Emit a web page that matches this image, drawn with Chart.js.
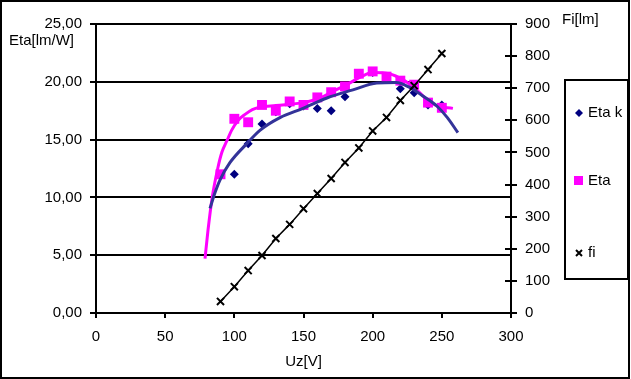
<!DOCTYPE html>
<html>
<head>
<meta charset="utf-8">
<script src="https://cdn.jsdelivr.net/npm/chart.js@4/dist/chart.umd.min.js"></script>
<style>
  html, body { margin: 0; padding: 0; background: #fff; }
  #wrap { width: 631px; height: 379px; }
</style>
</head>
<body>
<div id="wrap"><canvas id="grafico" width="631" height="379"></canvas></div>
<script>
const uz = [90, 100, 110, 120, 130, 140, 150, 160, 170, 180, 190, 200, 210, 220, 230, 240, 250];
const etaK = [11.9, 12.0, 14.65, 16.35, 17.4, 18.1, 17.9, 17.7, 17.5, 18.7, 20.6, 20.8, 20.4, 19.4, 19.05, 18.0, 18.0];
const eta = [12.0, 16.8, 16.5, 18.0, 17.5, 18.3, 18.0, 18.65, 19.1, 19.6, 20.7, 20.9, 20.45, 20.1, 19.75, 18.2, 17.75];
const fi = [36, 82, 132, 179, 232, 276, 325, 372, 419, 469, 514, 567, 609, 662, 708, 758, 808];

// Linhas de tendência
const tendEtaKX = [82.4, 86, 89.6, 96.8, 109, 118.5, 133, 149.6, 166.9, 185.7, 203, 217, 227, 236, 246, 254, 261.6];
const tendEtaKY = [9.05, 10.4, 11.5, 13.0, 14.65, 15.8, 16.9, 17.7, 18.6, 19.3, 19.9, 19.95, 19.5, 18.8, 17.95, 16.9, 15.6];
const tendEtaX = [78.8, 81, 84, 88, 91, 95, 98, 103, 108, 113, 118.5, 130, 150, 162, 170, 182, 191, 200, 212, 223, 230, 238, 246, 258];
const tendEtaY = [4.7, 7.2, 10.0, 12.5, 13.9, 15.0, 15.8, 16.7, 17.2, 17.6, 17.8, 17.95, 18.2, 18.6, 19.1, 19.8, 20.4, 20.8, 20.7, 20.1, 19.5, 18.6, 17.95, 17.7];

const ticksX = [0, 50, 100, 150, 200, 250, 300];

const pares = (xs, ys) => xs.map((x, i) => ({ x: x, y: ys[i] }));
const virgula = v => v.toFixed(2).replace('.', ',');

Chart.defaults.font.family = "'Liberation Sans', Arial, sans-serif";
Chart.defaults.font.size = 15;
Chart.defaults.color = '#000';

// Fundo, moldura, títulos dos eixos e legenda
const extras = {
  id: 'extras',
  beforeDraw(chart) {
    const ctx = chart.ctx;
    ctx.save();
    ctx.fillStyle = '#fff';
    ctx.fillRect(0, 0, chart.width, chart.height);
    ctx.restore();
  },
  afterDraw(chart) {
    const ctx = chart.ctx;
    const y2 = chart.scales.y2;
    ctx.save();
    // marcas internas do eixo direito
    ctx.strokeStyle = '#000';
    ctx.lineWidth = 2;
    y2.ticks.forEach(t => {
      const py = Math.round(y2.getPixelForValue(t.value));
      ctx.beginPath();
      ctx.moveTo(y2.left - 6, py);
      ctx.lineTo(y2.left, py);
      ctx.stroke();
    });

    ctx.fillStyle = '#000';
    ctx.font = "15px 'Liberation Sans', Arial, sans-serif";
    ctx.textBaseline = 'middle';
    ctx.textAlign = 'left';
    ctx.fillText('Eta[lm/W]', 9, 41);
    ctx.fillText('Fi[lm]', 562, 20);

    // legenda
    ctx.strokeRect(565, 80, 63, 199);
    ctx.fillText('Eta k', 588, 113);
    ctx.fillText('Eta', 588, 181);
    ctx.fillText('fi', 588, 253);
    ctx.fillStyle = '#000080';
    ctx.beginPath();
    ctx.moveTo(579, 109); ctx.lineTo(583, 113); ctx.lineTo(579, 117); ctx.lineTo(575, 113);
    ctx.closePath();
    ctx.fill();
    ctx.fillStyle = '#ff00ff';
    ctx.fillRect(574, 176, 9, 9);
    ctx.beginPath();
    ctx.moveTo(576, 250); ctx.lineTo(582, 256);
    ctx.moveTo(582, 250); ctx.lineTo(576, 256);
    ctx.stroke();

    // moldura externa
    ctx.strokeRect(1, 1, 628, 377);
    ctx.restore();
  }
};

new Chart(document.getElementById('grafico'), {
  type: 'scatter',
  data: {
    datasets: [
      {
        label: 'fi',
        data: pares(uz, fi),
        yAxisID: 'y2',
        showLine: true,
        borderColor: '#000',
        borderWidth: 1.5,
        pointStyle: 'crossRot',
        pointRadius: 5,
        pointBorderColor: '#000',
        pointBorderWidth: 2
      },
      {
        label: 'tend Eta k',
        data: pares(tendEtaKX, tendEtaKY),
        yAxisID: 'y',
        showLine: true,
        borderColor: '#333399',
        borderWidth: 3,
        pointRadius: 0,
        tension: 0.4,
        cubicInterpolationMode: 'monotone'
      },
      {
        label: 'tend Eta',
        data: pares(tendEtaX, tendEtaY),
        yAxisID: 'y',
        showLine: true,
        borderColor: '#ff00ff',
        borderWidth: 3,
        pointRadius: 0,
        cubicInterpolationMode: 'monotone'
      },
      {
        label: 'Eta',
        data: pares(uz, eta),
        yAxisID: 'y',
        pointStyle: 'rect',
        pointRadius: 7,
        pointBackgroundColor: '#ff00ff',
        pointBorderColor: '#ff00ff',
        pointBorderWidth: 0
      },
      {
        label: 'Eta k',
        data: pares(uz, etaK),
        yAxisID: 'y',
        pointStyle: 'rectRot',
        pointRadius: 4.5,
        pointBackgroundColor: '#000080',
        pointBorderColor: '#000080',
        pointBorderWidth: 0
      }
    ]
  },
  options: {
    responsive: false,
    animation: false,
    devicePixelRatio: 1,
    layout: { padding: { top: 24, left: 0, right: 0, bottom: 0 } },
    plugins: { legend: { display: false }, tooltip: { enabled: false } },
    scales: {
      x: {
        type: 'linear',
        min: 0,
        max: 300,
        afterFit(s) { s.height = 66; },
        afterBuildTicks(s) { s.ticks = ticksX.map(v => ({ value: v })); },
        ticks: { padding: 10, maxRotation: 0 },
        grid: { drawOnChartArea: false, tickLength: 5, color: '#000', lineWidth: 2 },
        border: { display: true, color: '#000', width: 2 },
        title: { display: true, text: 'Uz[V]', padding: { top: 0, bottom: 8 } }
      },
      y: {
        position: 'left',
        min: 0,
        max: 25,
        afterFit(s) { s.width = 96; },
        ticks: { stepSize: 5, padding: 8, callback: v => virgula(v) },
        grid: { color: '#000', lineWidth: 2, tickLength: 6 },
        border: { display: true, color: '#000', width: 2 }
      },
      y2: {
        position: 'right',
        min: 0,
        max: 900,
        afterFit(s) { s.width = 120; },
        ticks: { stepSize: 100, padding: 8 },
        grid: { drawOnChartArea: false, color: '#000', lineWidth: 2, tickLength: 6 },
        border: { display: true, color: '#000', width: 2 }
      }
    }
  },
  plugins: [extras]
});
</script>
</body>
</html>
